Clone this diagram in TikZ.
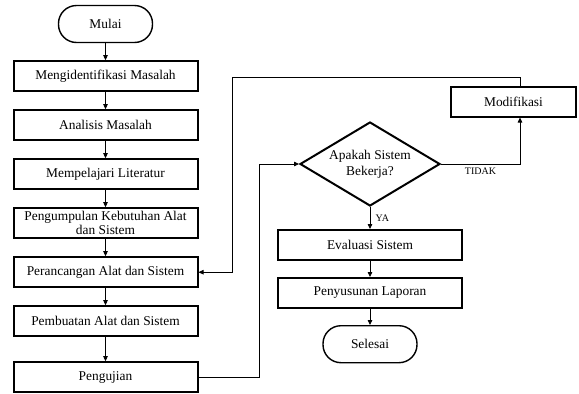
\documentclass[tikz,border=0pt]{standalone}
\usepackage{fontspec}
\setmainfont{Liberation Serif}
\usetikzlibrary{arrows.meta, positioning, shapes.geometric}
\tikzset{
  every picture/.style={font=\fontsize{13.4}{14.5}\selectfont, line width=0.8pt},
  proses/.style={draw, line width=2pt, align=center, minimum width=184pt, minimum height=30pt, inner sep=2pt},
  terminal/.style={draw, line width=1.4pt, rounded corners=18pt, minimum width=94pt, minimum height=37pt},
  keputusan/.style={draw, diamond, line width=2pt, aspect=1.67, inner sep=0pt, minimum width=140pt, minimum height=84pt, align=center, font=\fontsize{13.4}{16}\selectfont},
  arrow/.style={-{Triangle[length=5pt, width=4.5pt]}, line width=0.8pt},
  ket/.style={font=\fontsize{10}{12}\selectfont},
}

\begin{document}
\begin{tikzpicture}[x=1pt, y=1pt, node distance=17pt]
  \useasboundingbox (0,0) rectangle (579,-394);
  % kolom kiri
  \node[terminal] (mulai) at (105.5,-24) {Mulai};
  \node[proses, below=of mulai] (identifikasi) {Mengidentifikasi Masalah};
  \node[proses, below=of identifikasi] (analisis) {Analisis Masalah};
  \node[proses, below=of analisis] (literatur) {Mempelajari Literatur};
  \node[proses, below=of literatur, inner ysep=0.5pt, font=\fontsize{13.4}{14}\selectfont] (kebutuhan) {Pengumpulan Kebutuhan Alat\\dan Sistem};
  \node[proses, below=of kebutuhan] (rancang) {Perancangan Alat dan Sistem};
  \node[proses, below=of rancang] (buat) {Pembuatan Alat dan Sistem};
  \node[proses, below=24pt of buat] (uji) {Pengujian};
  % kolom kanan
  \node[keputusan] (cek) at (370,-164) {Apakah Sistem\\Bekerja?};
  \node[proses, minimum width=125pt] (modif) at (513.5,-101.5) {Modifikasi};
  \node[proses, below=22pt of cek] (evaluasi) {Evaluasi Sistem};
  \node[proses, below=16pt of evaluasi] (laporan) {Penyusunan Laporan};
  \node[terminal, below=16pt of laporan] (selesai) {Selesai};
  \coordinate (balik) at (232,-77);

  \draw[arrow] (mulai) -- (identifikasi);
  \draw[arrow] (identifikasi) -- (analisis);
  \draw[arrow] (analisis) -- (literatur);
  \draw[arrow] (literatur) -- (kebutuhan);
  \draw[arrow] (kebutuhan) -- (rancang);
  \draw[arrow] (rancang) -- (buat);
  \draw[arrow] (buat) -- (uji);
  \draw[arrow] (uji.east) -- ++(61,0) |- (cek.west);
  \draw[arrow] (cek.east) -| node[ket, pos=0.25, below] {TIDAK} ([xshift=6.5pt]modif.south);
  \draw[arrow] ([xshift=6.5pt]modif.north) |- (balik) |- (rancang.east);
  \draw[arrow] (cek.south) -- node[ket, right, xshift=2pt] {YA} (evaluasi.north);
  \draw[arrow] (evaluasi) -- (laporan);
  \draw[arrow] (laporan) -- (selesai);
\end{tikzpicture}
\end{document}
